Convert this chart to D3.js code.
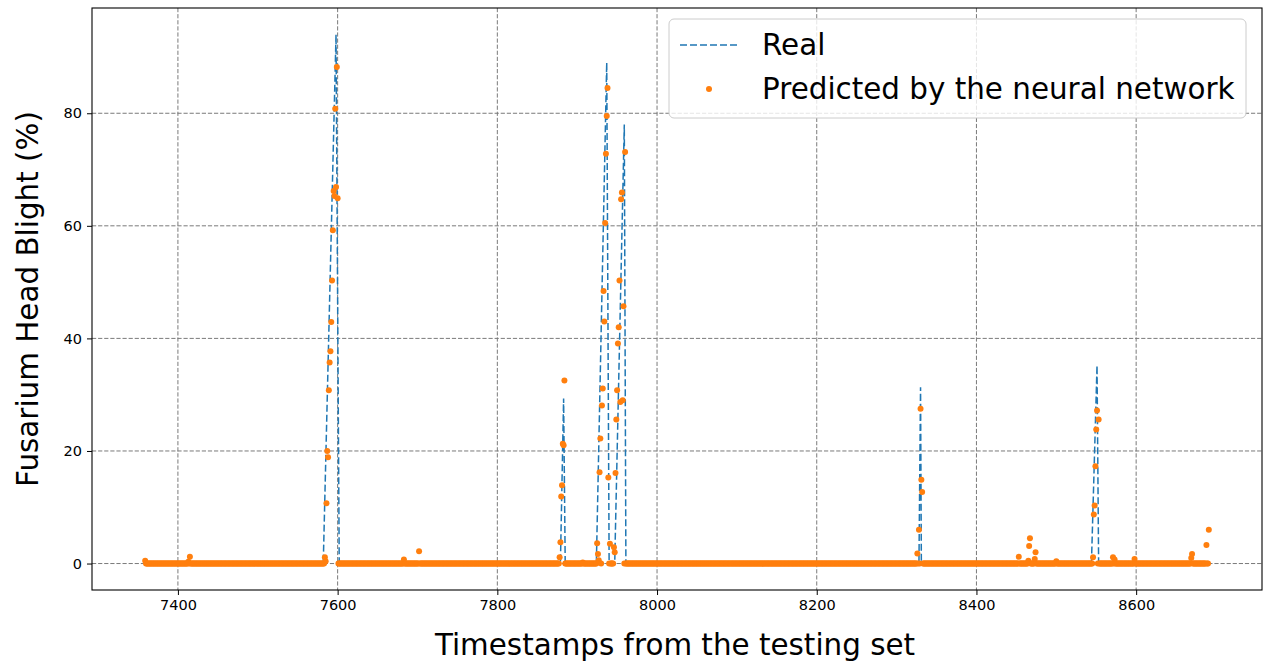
<!DOCTYPE html>
<html>
<head>
<meta charset="utf-8">
<script src="https://cdn.jsdelivr.net/npm/d3@7"></script>
<style>
  html, body { margin: 0; padding: 0; background: #fff; }
  svg { display: block; font-family: "DejaVu Sans", sans-serif; }
</style>
</head>
<body>
<svg id="chart" width="1266" height="663"></svg>
<script>
// ---- Data ----
const timeStart = 7359;
const timeEnd = 8691;

// Vertices of the "Real" curve (zero elsewhere)
const realT = [7359, 7582, 7598, 7602, 7879, 7883, 7885, 7924, 7937, 7940, 7947, 7959, 7961, 8328, 8330, 8331, 8544, 8551, 8553, 8691];
const realV = [0,    0,    94,   0,    0,    29.3, 0,    0,    89,   0,    0,    78,   0,    0,    31.3, 0,    0,    35.2, 0,    0];

// Non-zero network predictions (all other timestamps predicted ~0)
const predT = [7359, 7413, 7415, 7683, 7702,
  7584, 7585, 7586, 7587, 7588, 7589, 7590, 7591, 7592, 7593, 7594, 7595, 7596, 7597, 7598, 7599, 7600,
  7878, 7879, 7880, 7881, 7882, 7883, 7884, 7907,
  7925, 7926, 7927, 7928, 7929, 7931, 7932, 7933, 7934, 7935, 7936, 7937, 7938, 7939, 7941,
  7946, 7947, 7948, 7949, 7950, 7951, 7952, 7953, 7954, 7955, 7956, 7957, 7958, 7960,
  8326, 8328, 8330, 8331, 8332,
  8453, 8465, 8466, 8467, 8473, 8474, 8500,
  8546, 8547, 8548, 8549, 8550, 8551, 8553,
  8571, 8573, 8598, 8669, 8670, 8688, 8691];
const predV = [0.5, 0.3, 1.2, 0.7, 2.2,
  1.1, 0.4, 10.7, 20.0, 18.9, 30.8, 35.7, 37.7, 42.9, 50.3, 59.2, 66.2, 65.3, 80.8, 66.9, 88.2, 64.9,
  1.1, 3.8, 11.9, 13.9, 21.3, 21.0, 32.5, 0.2,
  3.6, 1.7, 0.6, 16.2, 22.2, 28.1, 31.1, 48.4, 43.0, 60.5, 72.8, 79.5, 84.5, 15.3, 3.5,
  2.9, 2.0, 16.1, 25.6, 30.8, 39.1, 42.0, 50.3, 28.7, 64.7, 65.9, 29.0, 45.7, 73.1,
  1.8, 6.0, 27.5, 14.9, 12.7,
  1.2, 0.5, 3.1, 4.5, 0.8, 2.0, 0.4,
  1.1, 8.7, 10.3, 17.3, 23.8, 27.2, 25.6,
  1.1, 0.7, 0.8, 1.0, 1.7, 3.3, 6.0];

const xTickValues = [7400, 7600, 7800, 8000, 8200, 8400, 8600];
const yTickValues = [0, 20, 40, 60, 80];

const xTitle = "Timestamps from the testing set";
const yTitle = "Fusarium Head Blight (%)";
const legendLabels = ["Real", "Predicted by the neural network"];

// ---- Build series ----
const realData = realT.map((t, i) => ({ t, v: realV[i] }));
const predMap = new Map(predT.map((t, i) => [t, predV[i]]));
const predData = [];
for (let t = timeStart; t <= timeEnd; t++) {
  predData.push({ t, v: predMap.has(t) ? predMap.get(t) : 0 });
}

// ---- Layout ----
const W = 1266, H = 663;
const plot = { left: 92, right: 1262, top: 8, bottom: 590 };

const xSpan = timeEnd - timeStart;
const yMax = d3.max(realV.concat(predV));
const x = d3.scaleLinear()
  .domain([timeStart - 0.05 * xSpan, timeEnd + 0.05 * xSpan])
  .range([plot.left, plot.right]);
const y = d3.scaleLinear()
  .domain([0 - 0.05 * yMax, yMax * 1.05])
  .range([plot.bottom, plot.top]);

const svg = d3.select("#chart");
svg.append("rect").attr("width", W).attr("height", H).attr("fill", "#fff");

// Grid
const gridColor = "#7a7a7a";
const grid = svg.append("g").attr("class", "grid");
grid.selectAll("line.vx").data(xTickValues).join("line")
  .attr("x1", d => x(d)).attr("x2", d => x(d))
  .attr("y1", plot.top).attr("y2", plot.bottom)
  .attr("stroke", gridColor).attr("stroke-width", 1).attr("stroke-dasharray", "4.2,1.9");
grid.selectAll("line.hy").data(yTickValues).join("line")
  .attr("x1", plot.left).attr("x2", plot.right)
  .attr("y1", d => y(d)).attr("y2", d => y(d))
  .attr("stroke", gridColor).attr("stroke-width", 1).attr("stroke-dasharray", "4.2,1.9");

// Clip
svg.append("clipPath").attr("id", "clip").append("rect")
  .attr("x", plot.left).attr("y", plot.top)
  .attr("width", plot.right - plot.left).attr("height", plot.bottom - plot.top);

const blue = "#1f77b4", orange = "#ff7f0e";

// Real line
svg.append("path")
  .datum(realData)
  .attr("clip-path", "url(#clip)")
  .attr("fill", "none")
  .attr("stroke", blue)
  .attr("stroke-width", 1.5)
  .attr("stroke-dasharray", "7,3")
  .attr("d", d3.line().x(d => x(d.t)).y(d => y(d.v)));

// Predicted dots
svg.append("g").attr("clip-path", "url(#clip)")
  .selectAll("circle").data(predData).join("circle")
  .attr("cx", d => x(d.t)).attr("cy", d => y(d.v)).attr("r", 3)
  .attr("fill", orange);

// Axes
const xAxis = d3.axisBottom(x).tickValues(xTickValues).tickFormat(d3.format("d")).tickSize(5).tickPadding(5);
const yAxis = d3.axisLeft(y).tickValues(yTickValues).tickFormat(d3.format("d")).tickSize(5).tickPadding(5);

const gx = svg.append("g").attr("transform", `translate(0,${plot.bottom})`).call(xAxis);
const gy = svg.append("g").attr("transform", `translate(${plot.left},0)`).call(yAxis);
[gx, gy].forEach(g => {
  g.select(".domain").remove();
  g.selectAll("text").attr("font-size", 14.5).attr("fill", "#000").attr("font-family", "DejaVu Sans");
  g.selectAll("line").attr("stroke", "#000").attr("stroke-width", 1);
});

// Frame
svg.append("rect")
  .attr("x", plot.left).attr("y", plot.top)
  .attr("width", plot.right - plot.left).attr("height", plot.bottom - plot.top)
  .attr("fill", "none").attr("stroke", "#000").attr("stroke-width", 1.1);

// Titles
const titleSize = 29.4;
svg.append("text")
  .attr("x", (plot.left + plot.right) / 2 - 2).attr("y", 655)
  .attr("text-anchor", "middle").attr("font-size", titleSize).attr("fill", "#000")
  .text(xTitle);
svg.append("text")
  .attr("transform", `translate(38,${(plot.top + plot.bottom) / 2}) rotate(-90)`)
  .attr("text-anchor", "middle").attr("font-size", titleSize).attr("fill", "#000")
  .text(yTitle);

// Legend
const lg = svg.append("g");
const lgBox = { x: 669, y: 19, w: 577, h: 99 };
lg.append("rect")
  .attr("x", lgBox.x).attr("y", lgBox.y).attr("width", lgBox.w).attr("height", lgBox.h)
  .attr("rx", 5).attr("ry", 5)
  .attr("fill", "#fff").attr("fill-opacity", 0.8)
  .attr("stroke", "#cccccc").attr("stroke-width", 1);
const rowY = [45, 89];
lg.append("line")
  .attr("x1", 680).attr("x2", 738).attr("y1", rowY[0]).attr("y2", rowY[0])
  .attr("stroke", blue).attr("stroke-width", 1.5).attr("stroke-dasharray", "7,3");
lg.append("circle").attr("cx", 709).attr("cy", rowY[1]).attr("r", 3).attr("fill", orange);
lg.selectAll("text.lbl").data(legendLabels).join("text")
  .attr("x", 762).attr("y", (d, i) => rowY[i])
  .attr("dy", "0.35em")
  .attr("font-size", titleSize).attr("fill", "#000")
  .text(d => d);
</script>
</body>
</html>
